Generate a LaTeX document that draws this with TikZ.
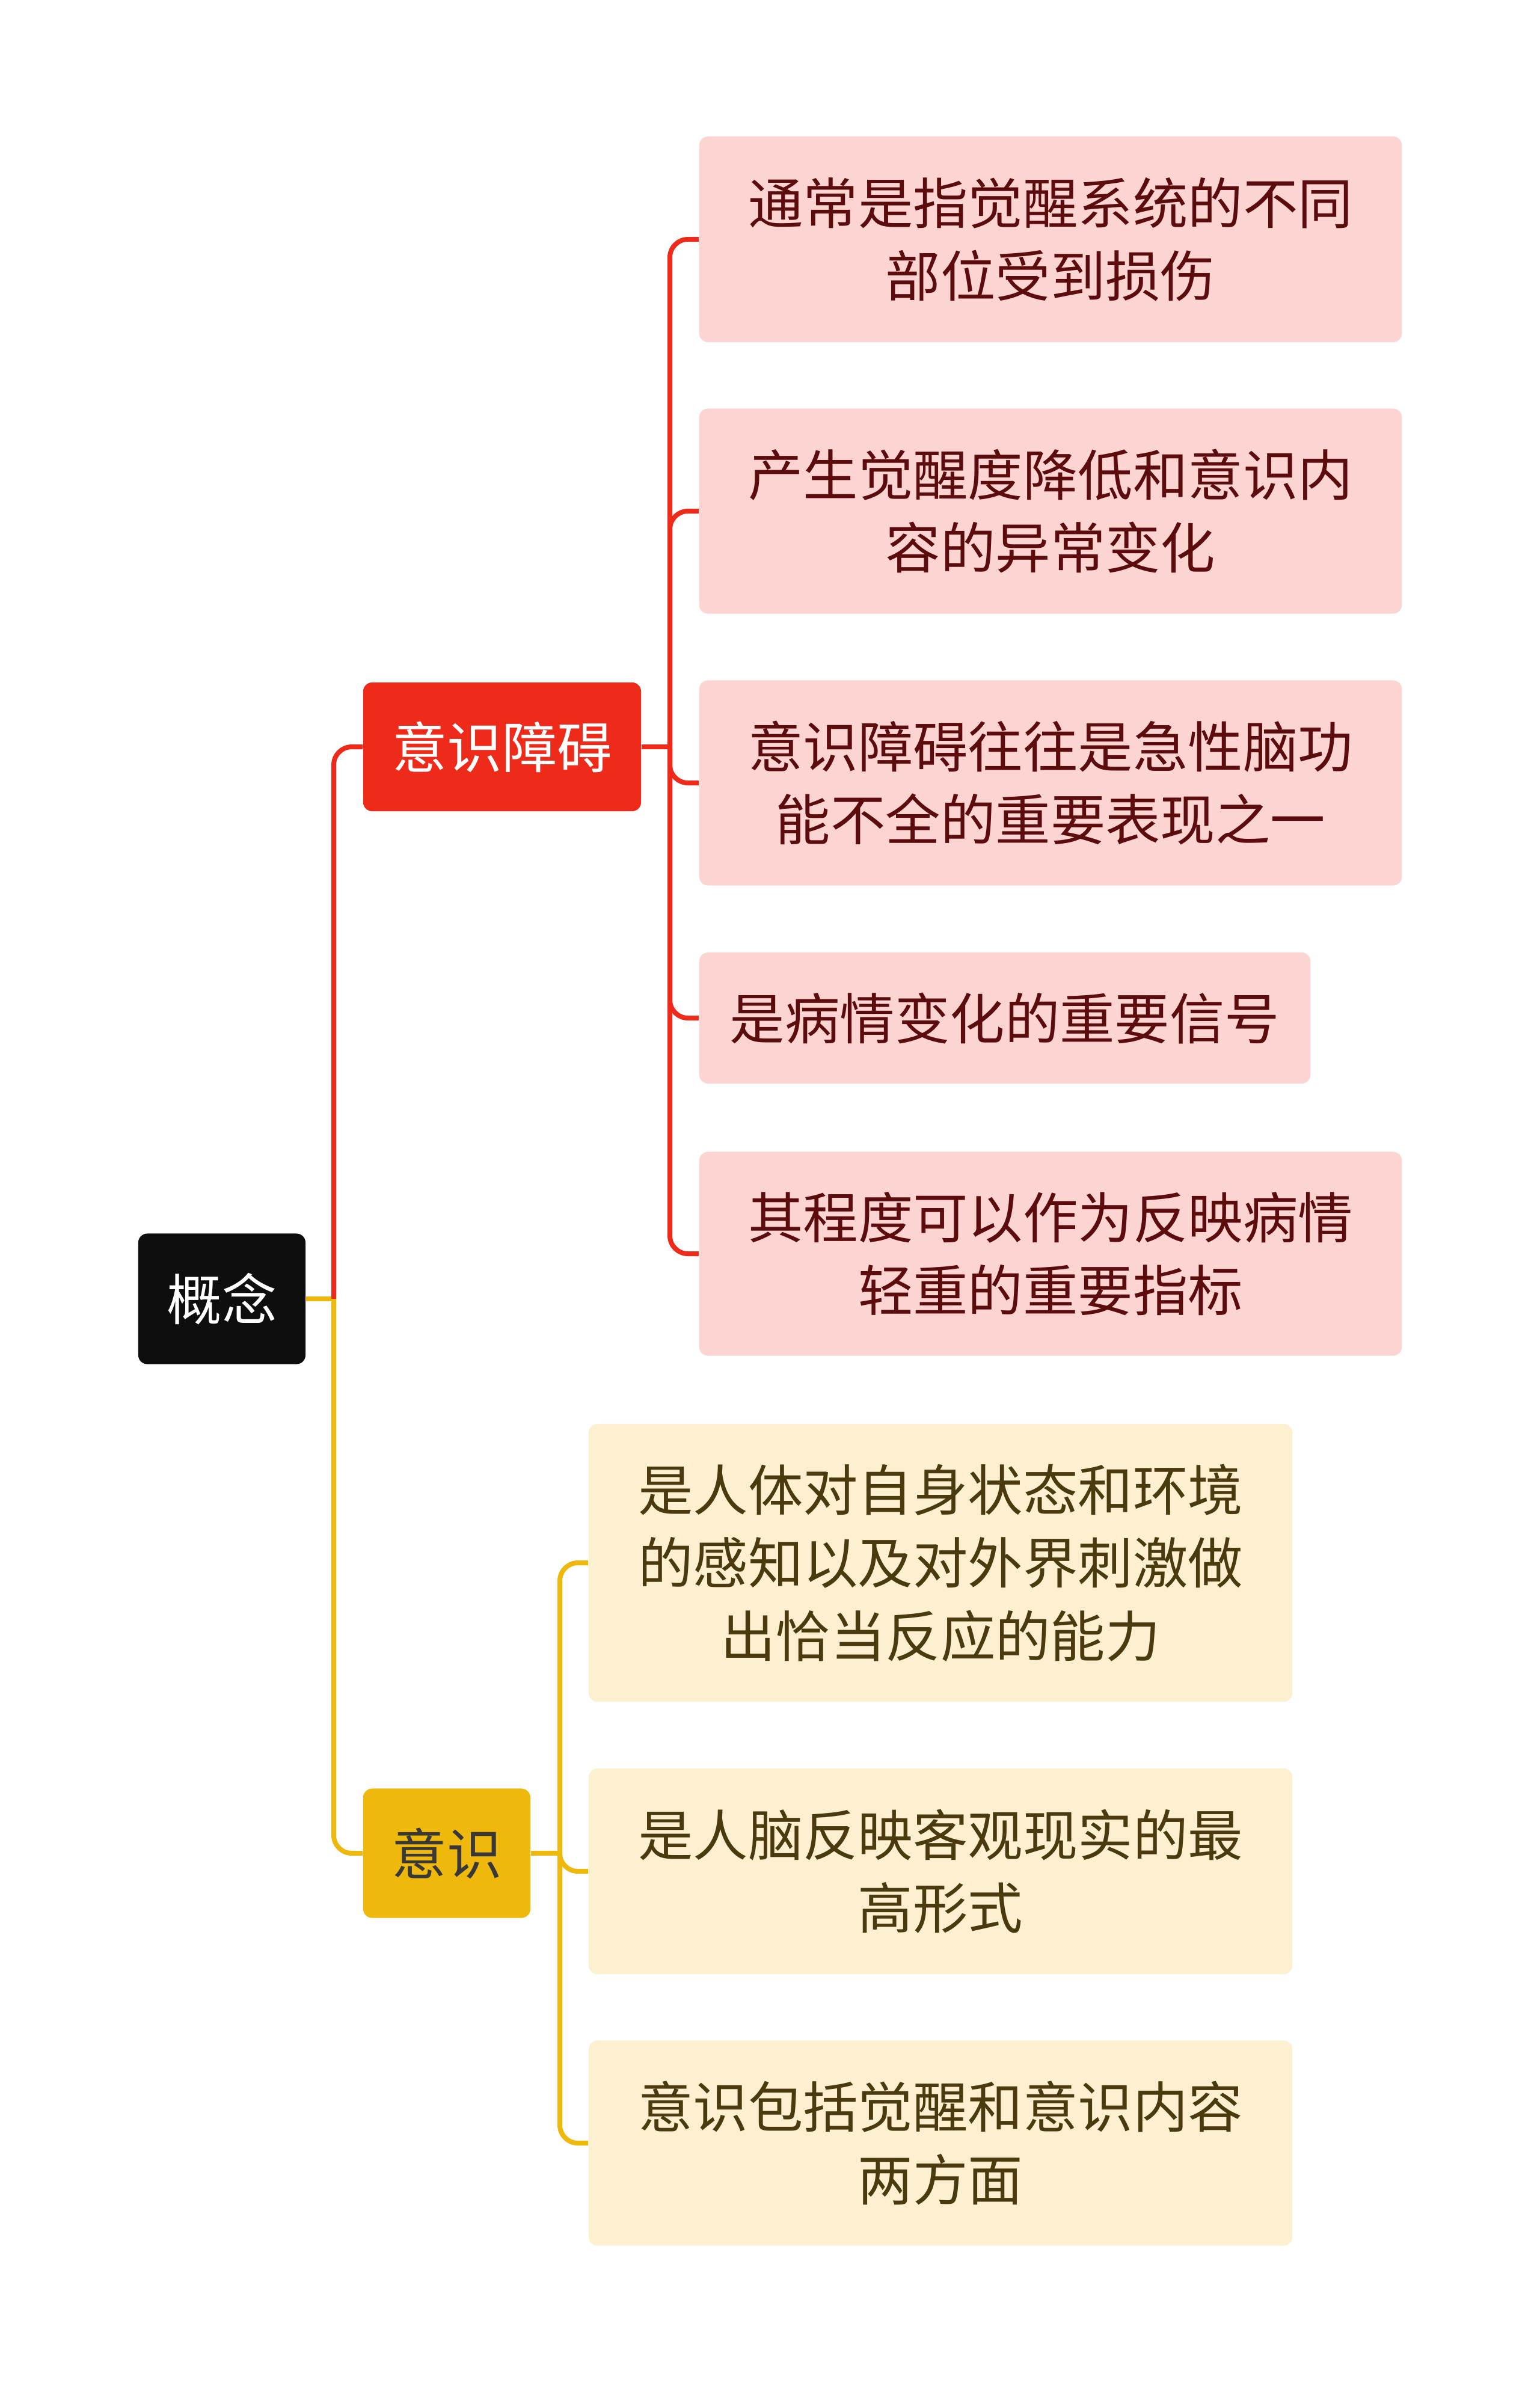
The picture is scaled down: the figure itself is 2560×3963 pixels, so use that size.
\documentclass[tikz,border=0pt]{standalone}
\usepackage{fontspec}
\usepackage{xcolor}
\usepackage{tikz}
\usetikzlibrary{calc,positioning}
\newfontfamily\cjk{Noto Sans CJK SC}
\definecolor{rootc}{HTML}{0E0E0E}
\definecolor{redc}{HTML}{EE2A1B}
\definecolor{redsoft}{HTML}{FCD5D2}
\definecolor{redtxt}{HTML}{5C0C0C}
\definecolor{yelc}{HTML}{EFB80C}
\definecolor{yelsoft}{HTML}{FCF0D0}
\definecolor{yeltxt}{HTML}{4B3A0D}
\newcommand{\bigtxt}{\cjk\fontsize{26pt}{34.5pt}\selectfont}
\tikzset{
  card/.style={rounded corners=0.15cm,inner sep=0pt,align=center,font=\bigtxt},
  rootbox/.style={card,fill=rootc,text=white,minimum width=2.78cm,minimum height=2.17cm},
  redmain/.style={card,fill=redc,text=white,minimum width=4.62cm,minimum height=2.14cm},
  yelmain/.style={card,fill=yelc,text=black!78,minimum width=2.78cm,minimum height=2.15cm},
  redleaf/.style={card,fill=redsoft,text=redtxt,minimum width=11.68cm,anchor=west},
  yelleaf/.style={card,fill=yelsoft,text=yeltxt,minimum width=11.7cm,anchor=west},
  redln/.style={redc,line width=0.08cm,rounded corners=0.3cm},
  yelln/.style={yelc,line width=0.08cm,rounded corners=0.3cm}
}
\begin{document}
\begin{tikzpicture}[x=0.01cm,y=-0.01cm]
\fill[white] (0,0) rectangle (2560,3963);
\useasboundingbox (0,0) rectangle (2560,3963);

% main nodes
\node[rootbox] (gainian) at (369,2160) {概念};
\node[redmain] (zhangai) at (835,1242) {意识障碍};
\node[yelmain] (yishi) at (743,3082) {意识};

% red leaves
\node[redleaf,minimum height=3.42cm] (r1) at (1162,398) {通常是指觉醒系统的不同\\部位受到损伤};
\node[redleaf,minimum height=3.41cm] (r2) at (1162,850) {产生觉醒度降低和意识内\\容的异常变化};
\node[redleaf,minimum height=3.41cm] (r3) at (1162,1302) {意识障碍往往是急性脑功\\能不全的重要表现之一};
\node[redleaf,minimum width=10.16cm,minimum height=2.18cm] (r4) at (1162,1693) {是病情变化的重要信号};
\node[redleaf,minimum height=3.39cm] (r5) at (1162,2085) {其程度可以作为反映病情\\轻重的重要指标};

% yellow leaves
\node[yelleaf,minimum height=4.62cm] (y1) at (978,2599) {是人体对自身状态和环境\\的感知以及对外界刺激做\\出恰当反应的能力};
\node[yelleaf,minimum height=3.42cm] (y2) at (978,3112) {是人脑反映客观现实的最\\高形式};
\node[yelleaf,minimum height=3.41cm] (y3) at (978,3564) {意识包括觉醒和意识内容\\两方面};

% trunks
\coordinate (t0) at (555,2160);
\coordinate (t1) at (1114,1242);
\coordinate (t2) at (931,3082);

% connectors
\draw[yelln] (gainian.east) -- (t0);
\draw[redln] (t0) |- (zhangai.west);
\draw[yelln] (t0) |- (yishi.west);
\draw[redln] (zhangai.east) -- (t1);
\foreach \n in {r1,r2,r3,r4,r5}
  \draw[redln] (t1) |- (\n.west);
\draw[yelln] (yishi.east) -- (t2);
\foreach \n in {y1,y2,y3}
  \draw[yelln] (t2) |- (\n.west);
\end{tikzpicture}
\end{document}
